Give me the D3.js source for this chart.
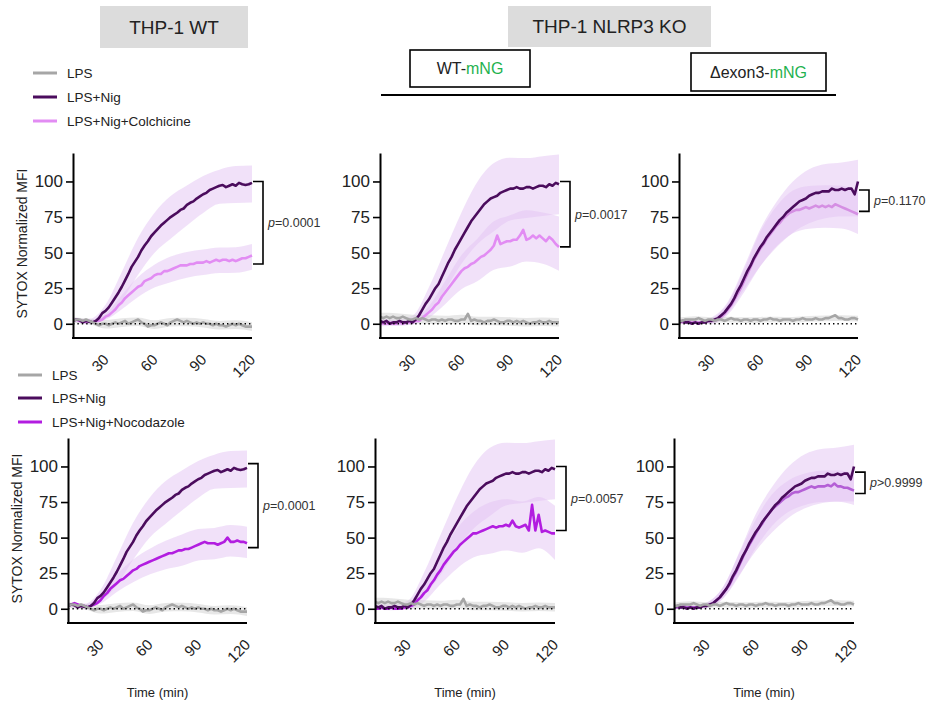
<!DOCTYPE html>
<html><head><meta charset="utf-8">
<script src="https://cdn.jsdelivr.net/npm/d3@7"></script>
<style>body{margin:0;background:#fff} svg{display:block;font-family:"Liberation Sans",Arial,sans-serif}</style>
</head><body><svg id="c" width="928" height="703"></svg>
<script>
// ---------- DATA ----------
const times = [10,12,14,16,18,20,22,24,26,28,30,32,34,36,38,40,42,44,46,48,50,52,54,56,58,60,62,64,66,68,70,72,74,76,78,80,82,84,86,88,90,92,94,96,98,100,102,104,106,108,110,112,114,116,118,120];
const bandTimes = [10,20,30,40,50,60,70,80,90,100,110,120];
const xTicks = [30,60,90,120];
const yTicks = [0,25,50,75,100];

// THP-1 WT
const wtLPS  = [2,3,3,2,3,2,1,0,-1,0, 0,-1,0,1,0,1,2,0,1,2, 3,1,0,-2,-1,-1,0,1,0,-1, 1,2,3,2,1,2,1,0,1,0, 1,0,0,-1,0,-1,-1,-2,-1,0, -1,0,-1,-2,-2,-2];
const wtNig  = [2,3,2.5,1,2,1.5,1,2,4,7.5, 9,11.5,15,18.5,22,26,30.5,35,40,43.5, 47,51.5,55,58,61.5,64,66.5,69,71,73, 75,76.5,78,80,81,83.5,85,86,88,89.5, 91,92,94,95,96,97,97.5,96,97,98, 97,99,98,97.5,98,99];
const wtColch= [2,3,2,2,1,2,1,2,2,3, 5,6,8,10,13,15,18,20,22,24, 26,27,30,31,32,34,35,35,37,37, 38,39,40,41,41,41,42,42,43,43, 43,44,43,44,45,44,45,45,44,45, 44,45,46,46,47,48];
const wtNoco = [2,3,4,3,2,2,1,2,3,4, 6,9,11,14,16,18,20,21,23,25, 27,28,30,31,32,33,34,35,36,37, 38,39,39,40,41,41,42,42,43,44, 45,46,47,46,46,46,45,46,47,50, 47,47,48,47,47,46];
// NLRP3 KO + WT-mNG
const koLPS  = [5,4,5,4,5,4,4,5,4,3, 3,4,3,4,3,2,3,3,2,3, 2,3,3,2,2,3,3,7,2,3, 2,2,1,2,2,3,2,1,1,2, 2,1,2,1,2,1,0,1,1,2, 1,1,2,1,1,1];
const koNig  = [2,1,2,0,1,1,2,1,1,2, 1,3,6,10,14,17,21,25,28,33, 38,43,47,52,56,60,64,68,72,75, 78,81,84,86,88,89,90,92,93,94, 95,95,96,95,95,96,96,95,96,97, 97,96,98,97,99,98];
const koColch= [1,0,0,1,0,0,1,0,1,1, 1,2,2,4,6,8,10,13,15,19, 22,25,28,31,34,37,39,40,42,43, 45,47,48,50,52,55,62,56,57,58, 58,59,59,62,66,59,60,62,60,62, 60,58,61,59,56,54];
const koNoco = [0,0,1,0,0,1,0,0,0,1, 1,2,3,6,8,11,13,17,20,24, 27,31,34,37,40,42,45,47,49,51, 53,53,54,55,56,57,58,57,58,58, 59,58,62,58,57,58,59,55,73,55, 66,54,55,54,53,53];
// NLRP3 KO + Δexon3-mNG
const dxLPS  = [2,2,3,3,3,3,4,3,2,3, 3,2,3,3,2,3,4,3,3,2, 3,3,2,3,3,2,3,3,4,3, 3,2,3,3,3,2,3,3,4,3, 3,3,4,3,3,4,4,5,6,4, 4,3,3,4,4,3];
const dxNig  = [1,2,1,1,0,1,0,1,1,2, 2,3,4,6,8,11,14,18,23,27, 32,37,41,46,50,54,57,61,64,67, 70,73,75,78,80,82,84,86,87,88, 90,91,92,92,93,93,93,95,94,94, 95,94,95,95,91,100];
const dxColch= [2,1,1,2,1,1,1,1,1,2, 2,2,3,5,7,10,13,17,21,25, 30,35,40,45,49,53,56,60,63,66, 69,71,74,76,78,79,80,80,81,82, 81,82,83,82,83,82,83,82,84,83, 82,81,80,79,78,77];
const dxNoco = [1,1,1,2,1,1,1,1,1,2, 2,3,4,6,8,11,14,17,22,26, 31,36,41,45,49,53,57,60,64,67, 70,72,74,76,78,79,81,82,82,83, 84,85,86,85,86,86,86,87,86,88, 86,86,85,85,84,83];

// SD at bandTimes
const wtLPSSD   = [2,2,3,3,3,3,3,3,3,3,3,3];
const wtNigSD   = [1,2,4,10,13,14,15,14,13,12,13,13];
const wtColchSD = [1,1,2,5,7,8,9,9,9,9,9,9];
const wtNocoSD  = [1,1,3,6,8,9,10,11,11,11,11,11];
const koLPSSD   = [3,3,3,3,3,3,3,3,3,3,3,3];
const koNigSD   = [2,2,3,8,14,18,22,24,22,21,21,21];
const koColchSD = [2,2,2,4,8,12,15,17,18,18,18,19];
const koNocoSD  = [1,1,2,6,10,14,16,18,18,18,18,19];
const dxLPSSD   = [2,2,2,2,2,2,2,2,2,2,2,2];
const dxNigSD   = [1,1,2,4,8,13,16,18,19,19,19,20];
const dxColchSD = [1,1,2,4,8,12,14,15,15,15,15,15];
const dxNocoSD  = [1,1,2,4,8,10,11,11,11,11,11,11];

const bracketTop    = [100, 100, 94, 102, 100, 96];
const bracketBottom = [42, 54, 79, 43, 55, 81];
const pLabels = ["=0.0001","=0.0017","=0.1170","=0.0001","=0.0057",">0.9999"];
const legendTop    = ["LPS","LPS+Nig","LPS+Nig+Colchicine"];
const legendBottom = ["LPS","LPS+Nig","LPS+Nig+Nocodazole"];

// ---------- STYLE ----------
const C = {lps:"#a6a6a6", nig:"#4b0c5d", colch:"#e28cf3", colchDx:"#d58fe3", noco:"#b21de0", nocoDx:"#b45fd6",
           band:"#e4c4f3", lpsBand:"#cfcfcf", text:"#222", green:"#1fb24f"};

const svg = d3.select("#c");

const panels = [
 {x0:73, x1:252, yTop:153, yBot:338, lps:wtLPS, lpsSD:wtLPSSD, nig:wtNig, nigSD:wtNigSD, trt:wtColch, trtSD:wtColchSD, trtColor:C.colch, ylab:true, xlab:false},
 {x0:380,x1:559, yTop:153, yBot:338, lps:koLPS, lpsSD:koLPSSD, nig:koNig, nigSD:koNigSD, trt:koColch, trtSD:koColchSD, trtColor:C.colch, ylab:false, xlab:false},
 {x0:679,x1:858, yTop:153, yBot:338, lps:dxLPS, lpsSD:dxLPSSD, nig:dxNig, nigSD:dxNigSD, trt:dxColch, trtSD:dxColchSD, trtColor:C.colchDx, ylab:false, xlab:false},
 {x0:68, x1:247, yTop:438, yBot:623, lps:wtLPS, lpsSD:wtLPSSD, nig:wtNig, nigSD:wtNigSD, trt:wtNoco, trtSD:wtNocoSD, trtColor:C.noco, ylab:true, xlab:true},
 {x0:375,x1:555, yTop:438, yBot:623, lps:koLPS, lpsSD:koLPSSD, nig:koNig, nigSD:koNigSD, trt:koNoco, trtSD:koNocoSD, trtColor:C.noco, ylab:false, xlab:true},
 {x0:674,x1:854, yTop:438, yBot:623, lps:dxLPS, lpsSD:dxLPSSD, nig:dxNig, nigSD:dxNigSD, trt:dxNoco, trtSD:dxNocoSD, trtColor:C.nocoDx, ylab:false, xlab:true}
];

function bandData(series, sd){
  return bandTimes.map((bt,k)=>{
    const idx = times.indexOf(bt);
    const m = d3.mean(series.slice(Math.max(0,idx-2), idx+3));
    return {t:bt, lo:m-sd[k], hi:m+sd[k]};
  });
}

panels.forEach((p,i)=>{
  const x = d3.scaleLinear().domain([10,120]).range([p.x0,p.x1]);
  const y = d3.scaleLinear().domain([-10,120]).range([p.yBot,p.yTop]);
  const g = svg.append("g");
  const cid = "clip"+i;
  g.append("clipPath").attr("id",cid).append("rect")
    .attr("x",p.x0).attr("y",p.yTop).attr("width",p.x1-p.x0+2).attr("height",p.yBot-p.yTop);
  const cg = g.append("g").attr("clip-path",`url(#${cid})`);
  const area = d3.area().x(d=>x(d.t)).y0(d=>y(d.lo)).y1(d=>y(d.hi)).curve(d3.curveMonotoneX);
  cg.append("path").attr("d",area(bandData(p.nig,p.nigSD))).attr("fill",C.band).attr("opacity",0.5);
  cg.append("path").attr("d",area(bandData(p.trt,p.trtSD))).attr("fill",C.band).attr("opacity",0.5);
  cg.append("path").attr("d",area(bandData(p.lps,p.lpsSD))).attr("fill",C.lpsBand).attr("opacity",0.5);
  // zero dotted
  g.append("line").attr("x1",x(10)).attr("x2",x(120)).attr("y1",y(0)).attr("y2",y(0))
    .attr("stroke","#000").attr("stroke-width",1.3).attr("stroke-dasharray","1.4,3");
  const line = d3.line().x((d,k)=>x(times[k])).y(d=>y(d));
  [[p.trt,p.trtColor],[p.nig,C.nig],[p.lps,C.lps]].forEach(([s,c])=>{
    cg.append("path").attr("d",line(s)).attr("fill","none").attr("stroke",c)
      .attr("stroke-width",2.6).attr("stroke-linejoin","round");
  });
  // axes
  const ya = g.append("g").attr("transform",`translate(${p.x0},0)`)
    .call(d3.axisLeft(y).tickValues(yTicks).tickSize(7).tickPadding(3).tickSizeOuter(0));
  ya.select(".domain").attr("stroke","#000").attr("stroke-width",2);
  ya.selectAll(".tick line").attr("stroke","#000").attr("stroke-width",1.6);
  ya.selectAll(".tick text").attr("font-size",17).attr("fill",C.text).attr("font-family","Liberation Sans, Arial, sans-serif");
  const xa = g.append("g").attr("transform",`translate(0,${p.yBot})`)
    .call(d3.axisBottom(x).tickValues(xTicks).tickSize(0).tickSizeOuter(0));
  xa.select(".domain").attr("stroke","#000").attr("stroke-width",2)
    .attr("d",`M${p.x0-1},0H${p.x1}`);
  xa.selectAll(".tick text").attr("font-size",15).attr("fill",C.text)
    .attr("font-family","Liberation Sans, Arial, sans-serif")
    .attr("text-anchor","end").attr("x",0).attr("y",0).attr("dy","0.35em")
    .attr("transform","translate(0,19) rotate(-45)");
  if(p.ylab){
    g.append("text").attr("transform",`translate(${p.x0-46},${(p.yTop+p.yBot)/2-2}) rotate(-90)`)
      .attr("text-anchor","middle").attr("font-size",14).attr("fill",C.text).text("SYTOX Normalized MFI");
  }
  if(p.xlab){
    g.append("text").attr("x",(p.x0+p.x1)/2).attr("y",697).attr("text-anchor","middle")
      .attr("font-size",13).attr("fill",C.text).text("Time (min)");
  }
  // bracket
  const bx = p.x1+11, yt=y(bracketTop[i]), yb=y(bracketBottom[i]);
  g.append("path").attr("d",`M${bx-10},${yt}H${bx}V${yb}H${bx-10}`).attr("fill","none")
    .attr("stroke","#000").attr("stroke-width",1.6);
  const pt = g.append("text").attr("x",bx+5).attr("y",(yt+yb)/2).attr("dy","0.35em")
    .attr("font-size",12.5).attr("fill","#333");
  pt.append("tspan").attr("font-style","italic").text("p");
  pt.append("tspan").text(pLabels[i]);
});

// legends
function legend(labels, colors, lx, ys){
  labels.forEach((l,k)=>{
    svg.append("line").attr("x1",lx).attr("x2",lx+24).attr("y1",ys[k]).attr("y2",ys[k])
      .attr("stroke",colors[k]).attr("stroke-width",3);
    svg.append("text").attr("x",lx+34).attr("y",ys[k]).attr("dy","0.35em")
      .attr("font-size",13.5).attr("fill",C.text).text(l);
  });
}
legend(legendTop,[C.lps,C.nig,C.colch],33,[73,97,121]);
legend(legendBottom,[C.lps,C.nig,C.noco],18,[375,398,422]);

// headers
function grayBox(x0,x1,y0,y1,txt){
  svg.append("rect").attr("x",x0).attr("y",y0).attr("width",x1-x0).attr("height",y1-y0).attr("fill","#dcdcdc");
  svg.append("text").attr("x",(x0+x1)/2).attr("y",(y0+y1)/2).attr("dy","0.35em").attr("text-anchor","middle")
    .attr("font-size",19).attr("fill",C.text).text(txt);
}
grayBox(100,248,6,48,"THP-1 WT");
grayBox(508,711,6,47,"THP-1 NLRP3 KO");
function whiteBox(x0,x1,y0,y1,a,b){
  svg.append("rect").attr("x",x0).attr("y",y0).attr("width",x1-x0).attr("height",y1-y0)
    .attr("fill","#fff").attr("stroke","#000").attr("stroke-width",1.6);
  const t = svg.append("text").attr("x",(x0+x1)/2).attr("y",(y0+y1)/2).attr("dy","0.35em")
    .attr("text-anchor","middle").attr("font-size",16).attr("fill",C.text);
  t.append("tspan").text(a);
  t.append("tspan").attr("fill",C.green).text(b);
}
whiteBox(410,530,50,87,"WT-","mNG");
whiteBox(691,826,53,91,"Δexon3-","mNG");
svg.append("line").attr("x1",381).attr("x2",836).attr("y1",95).attr("y2",95).attr("stroke","#000").attr("stroke-width",2);
</script></body></html>
